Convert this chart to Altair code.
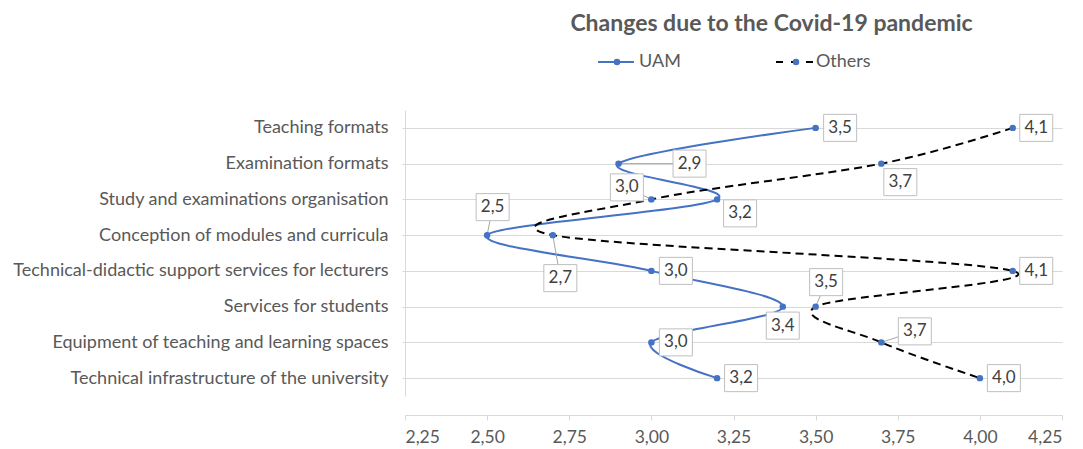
import json
import altair as alt
import pandas as pd

# ---------------- data ----------------
categories = [
    "Teaching formats",
    "Examination formats",
    "Study and examinations organisation ",
    "Conception of modules and curricula",
    "Technical-didactic support services for lecturers",
    "Services for students",
    "Equipment of teaching and learning spaces",
    "Technical infrastructure of the university",
]
uam_values = [3.5, 2.9, 3.2, 2.5, 3.0, 3.4, 3.0, 3.2]
others_values = [4.1, 3.7, 3.0, 2.7, 4.1, 3.5, 3.7, 4.0]
series_names = ["UAM", "Others"]
x_ticks = [2.25, 2.50, 2.75, 3.00, 3.25, 3.50, 3.75, 4.00, 4.25]

# ---------------- label placement (styles, in pixels) ----------------
uam_label_dx = [24.5, 71, 23, 5.5, 24.5, 0, 24.5, 24]
uam_label_dy = [0, 0, 14, -28, 0, 19, 0, 0]
uam_leader = [False, True, False, True, False, False, False, False]
oth_label_dx = [23.5, 19, -24.5, 7.5, 23.5, 10.5, 33.5, 24]
oth_label_dy = [0, 18.5, -12, 43, 0, -24.5, -11, 0]
oth_leader = [False, False, True, True, False, True, True, False]

# ---------------- layout / style ----------------
W, H = 657, 286
X_DOMAIN = [2.25, 4.25]
Y_DOMAIN = [0.5, len(categories) + 0.5]
PX_X = W / (X_DOMAIN[1] - X_DOMAIN[0])
PX_Y = H / (Y_DOMAIN[1] - Y_DOMAIN[0])
BLUE = "#4472C4"
GRID = "#D9D9D9"
TXT = "#595959"
FONT = "Lato"

rows = []
for i, cat in enumerate(categories):
    for s, vals, dxs, dys, lead in [
        ("UAM", uam_values, uam_label_dx, uam_label_dy, uam_leader),
        ("Others", others_values, oth_label_dx, oth_label_dy, oth_leader),
    ]:
        rows.append(dict(category=cat, idx=i + 1, series=s, value=vals[i],
                         dx=dxs[i], dy=dys[i], leader=lead[i]))
df = pd.DataFrame(rows)

label_expr = "[''," + ",".join(json.dumps(c) for c in categories) + "][datum.value]"

x_enc = alt.X("value:Q", scale=alt.Scale(domain=X_DOMAIN, nice=False, zero=False),
              axis=alt.Axis(values=x_ticks, title=None, grid=False, offset=19,
                            labelExpr="replace(format(datum.value, '.2f'), '.', ',')",
                            domainColor=GRID, tickColor=GRID, tickSize=5,
                            labelFont=FONT, labelFontSize=17.5, labelColor=TXT,
                            labelPadding=8))
y_enc = alt.Y("idx:Q", scale=alt.Scale(domain=Y_DOMAIN, reverse=True, nice=False, zero=False),
              axis=alt.Axis(values=list(range(1, len(categories) + 1)), title=None,
                            labelExpr=label_expr, grid=True, gridColor=GRID,
                            domainColor=GRID, tickColor=GRID, tickSize=3,
                            labelFont=FONT, labelFontSize=18, labelColor=TXT,
                            labelPadding=14, labelLimit=0, minExtent=397, maxExtent=397))

base = alt.Chart(df)

line_uam = base.transform_filter("datum.series == 'UAM'").mark_line(
    interpolate="cardinal", color=BLUE, strokeWidth=2).encode(x=x_enc, y=y_enc, order="idx:Q")
line_oth = base.transform_filter("datum.series == 'Others'").mark_line(
    interpolate="cardinal", color="black", strokeWidth=2, strokeDash=[8, 5]).encode(
    x="value:Q", y="idx:Q", order="idx:Q")

lab = base.transform_calculate(
    lx=f"datum.value + datum.dx / {PX_X}",
    ly=f"datum.idx + datum.dy / {PX_Y}",
    txt="replace(format(datum.value, '.1f'), '.', ',')",
)
leaders = lab.transform_filter("datum.leader").mark_rule(color="#A6A6A6", strokeWidth=1).encode(
    x="value:Q", y="idx:Q", x2="lx:Q", y2="ly:Q")
points = base.mark_point(filled=True, color=BLUE, size=42, opacity=1).encode(x="value:Q", y="idx:Q")
boxes = lab.mark_point(shape="M-1,-0.82L1,-0.82L1,0.82L-1,0.82Z", size=33 * 33, filled=True,
                       fill="white", stroke="#BFBFBF", strokeWidth=1, opacity=1).encode(
    x="lx:Q", y="ly:Q")
texts = lab.mark_text(font=FONT, fontSize=17, color="#404040", align="center",
                      baseline="middle").encode(x="lx:Q", y="ly:Q", text="txt:N")

# ---------------- legend (drawn above the plot area) ----------------
leg = alt.Chart(pd.DataFrame({"series": series_names}))
LY = -48
leg_uam_line = leg.transform_filter("datum.series == 'UAM'").mark_rule(color=BLUE, strokeWidth=2).encode(
    x=alt.value(193), x2=alt.value(229), y=alt.value(LY))
leg_uam_pt = leg.transform_filter("datum.series == 'UAM'").mark_point(
    filled=True, color=BLUE, size=42, opacity=1).encode(x=alt.value(212), y=alt.value(LY))
leg_uam_txt = leg.transform_filter("datum.series == 'UAM'").mark_text(
    font=FONT, fontSize=18, color=TXT, align="left", baseline="middle").encode(
    x=alt.value(234), y=alt.value(LY), text="series:N")
leg_oth_line = leg.transform_filter("datum.series == 'Others'").mark_rule(
    color="black", strokeWidth=2, strokeDash=[7, 8], strokeDashOffset=0).encode(
    x=alt.value(371), x2=alt.value(408), y=alt.value(LY))
leg_oth_pt = leg.transform_filter("datum.series == 'Others'").mark_point(
    filled=True, color=BLUE, size=42, opacity=1).encode(x=alt.value(391), y=alt.value(LY))
leg_oth_txt = leg.transform_filter("datum.series == 'Others'").mark_text(
    font=FONT, fontSize=18, color=TXT, align="left", baseline="middle").encode(
    x=alt.value(411), y=alt.value(LY), text="series:N")

chart = alt.layer(
    line_uam, line_oth, leaders, points, boxes, texts,
    leg_uam_line, leg_uam_pt, leg_uam_txt, leg_oth_line, leg_oth_pt, leg_oth_txt,
).properties(
    width=W, height=H,
    title=alt.TitleParams("Changes due to the Covid-19 pandemic", anchor="middle", dx=38,
                          font=FONT, fontSize=23, fontWeight="bold", color=TXT, offset=17),
    padding={"left": 0, "top": 5, "right": 0, "bottom": 0},
).configure_view(stroke=None)

chart.save("out.html", embed_options={"renderer": "svg", "actions": False})
